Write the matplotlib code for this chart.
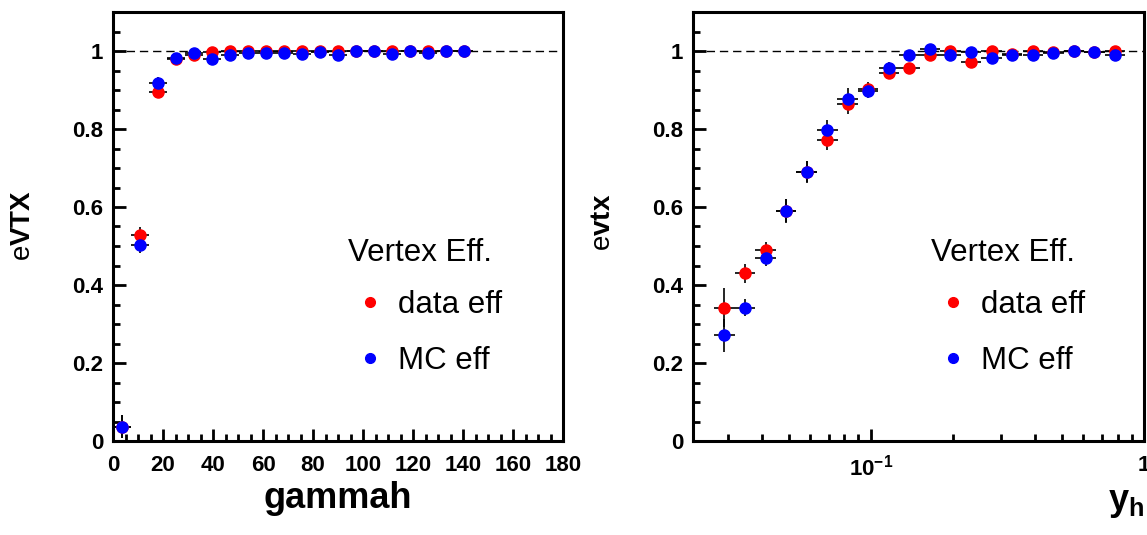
import numpy as np
import matplotlib
matplotlib.use("Agg")
import matplotlib.pyplot as plt
from matplotlib.lines import Line2D
from matplotlib.ticker import MultipleLocator, FixedLocator, FixedFormatter, LogLocator, NullFormatter

plt.rcParams['font.family'] = ['Liberation Sans', 'DejaVu Sans']
plt.rcParams['mathtext.fontset'] = 'custom'
plt.rcParams['mathtext.rm'] = 'Liberation Sans'
plt.rcParams['mathtext.bf'] = 'Liberation Sans:bold'

# --- left panel: efficiency vs gammah (20 bins, 0..144) ---
gam_x = [3.6, 10.8, 18.0, 25.2, 32.4, 39.6, 46.8, 54.0, 61.2, 68.4,
         75.6, 82.8, 90.0, 97.2, 104.4, 111.6, 118.8, 126.0, 133.2, 140.4]
gam_data = [0.037, 0.529, 0.896, 0.980, 0.990, 0.997, 1.0, 1.0, 1.0, 1.0,
            1.0, 0.999, 1.0, 0.999, 0.999, 1.0, 0.999, 1.0, 0.999, 0.999]
gam_mc = [0.037, 0.503, 0.918, 0.981, 0.994, 0.979, 0.989, 0.996, 0.996, 0.996,
          0.993, 0.998, 0.990, 1.0, 1.0, 0.992, 1.0, 0.996, 1.0, 1.0]
gam_data_err = [0.03, 0.02, 0.015, 0.008, 0.006, 0.005, 0.004, 0.004, 0.004, 0.004,
                0.004, 0.003, 0.003, 0.003, 0.003, 0.003, 0.003, 0.003, 0.003, 0.003]
gam_mc_err = [0.03, 0.02, 0.015, 0.008, 0.006, 0.005, 0.004, 0.004, 0.004, 0.004,
              0.004, 0.003, 0.003, 0.003, 0.003, 0.003, 0.003, 0.003, 0.003, 0.003]
gam_halfwidth = 3.6

# --- right panel: efficiency vs y_h (20 log bins) ---
yh_x = [0.02904, 0.03451, 0.04111, 0.04887, 0.05808, 0.06918, 0.08222, 0.09772,
        0.1164, 0.1384, 0.1644, 0.1954, 0.2328, 0.2767, 0.3289, 0.3917,
        0.4656, 0.5534, 0.6577, 0.7816]
yh_data = [0.342, 0.430, 0.489, 0.590, 0.691, 0.772, 0.864, 0.903, 0.943, 0.957,
           0.989, 1.0, 0.972, 1.0, 0.993, 1.0, 0.998, 1.0, 0.998, 1.0]
yh_mc = [0.271, 0.342, 0.470, 0.591, 0.690, 0.797, 0.877, 0.897, 0.957, 0.990,
         1.006, 0.991, 0.997, 0.981, 0.990, 0.989, 0.994, 1.0, 0.997, 0.990]
yh_data_err = [0.05, 0.025, 0.022, 0.03, 0.028, 0.025, 0.025, 0.018, 0.015, 0.01,
               0.008, 0.006, 0.01, 0.006, 0.006, 0.005, 0.005, 0.004, 0.004, 0.004]
yh_mc_err = [0.043, 0.022, 0.022, 0.03, 0.028, 0.027, 0.027, 0.018, 0.015, 0.01,
             0.008, 0.006, 0.006, 0.006, 0.006, 0.005, 0.005, 0.004, 0.004, 0.004]
yh_loghalf = 0.0376

RED = '#ff0000'
BLUE = '#0000ff'
MS = 8
TICKFONT = 16


def style_axes(ax):
    for s in ax.spines.values():
        s.set_linewidth(2.2)
    ax.tick_params(which='both', direction='in', top=False, right=False,
                   width=2.0, labelsize=TICKFONT, pad=7)
    ax.tick_params(axis='x', which='both', pad=10)
    ax.tick_params(which='major', length=9)
    ax.tick_params(which='minor', length=5)
    for lab in ax.get_xticklabels() + ax.get_yticklabels():
        lab.set_fontweight('bold')
    ax.set_ylim(0, 1.1)
    ax.yaxis.set_major_locator(MultipleLocator(0.2))
    ax.yaxis.set_minor_locator(MultipleLocator(0.05))
    ax.yaxis.set_major_formatter(plt.FuncFormatter(lambda v, p: '%g' % round(v, 2)))
    ax.axhline(1.0, color='k', lw=1.0, ls=(0, (6, 3.5)), zorder=1)


def add_legend(ax, anchor):
    handles = [Line2D([], [], marker='o', ls='none', color=RED, ms=7),
               Line2D([], [], marker='o', ls='none', color=BLUE, ms=7)]
    leg = ax.legend(handles, ['data eff', 'MC eff'], title='Vertex Eff.',
                    loc='upper left', bbox_to_anchor=anchor, frameon=False,
                    fontsize=22.5, title_fontsize=22.5, borderpad=0,
                    handlelength=1.4, handletextpad=0.2, labelspacing=0.85,
                    alignment='left')
    leg._legend_box.sep = 16
    return leg


fig = plt.figure(figsize=(11.47, 5.35), dpi=100)
ax1 = fig.add_axes([113 / 1147, 1 - 441 / 535, 450 / 1147, 429 / 535])
ax2 = fig.add_axes([693 / 1147, 1 - 441 / 535, 451 / 1147, 429 / 535])

ekw = dict(fmt='o', ms=MS, ecolor='k', elinewidth=1.2, capsize=0, zorder=3)

ax1.errorbar(gam_x, gam_data, yerr=gam_data_err, xerr=gam_halfwidth, color=RED, **ekw)
ax1.errorbar(gam_x, gam_mc, yerr=gam_mc_err, xerr=gam_halfwidth, color=BLUE, **ekw)
ax1.set_xlim(0, 180)
ax1.xaxis.set_major_locator(MultipleLocator(20))
ax1.xaxis.set_minor_locator(MultipleLocator(5))
style_axes(ax1)
ax1.set_xlabel('gammah', fontsize=26, fontweight='bold', labelpad=4)
add_legend(ax1, ((332 - 113) / 450, (441 - 222) / 429))

yx = np.array(yh_x)
xlo = yx - yx / 10 ** yh_loghalf
xhi = yx * 10 ** yh_loghalf - yx
ax2.errorbar(yx, yh_data, yerr=yh_data_err, xerr=[xlo, xhi], color=RED, **ekw)
ax2.errorbar(yx, yh_mc, yerr=yh_mc_err, xerr=[xlo, xhi], color=BLUE, **ekw)
ax2.set_xscale('log')
ax2.set_xlim(0.0223, 1.0)
ax2.xaxis.set_major_locator(FixedLocator([0.1, 1.0]))
ax2.xaxis.set_major_formatter(FixedFormatter([r'$\mathbf{10^{-1}}$', r'$\mathbf{1}$']))
ax2.xaxis.set_minor_locator(LogLocator(base=10, subs=np.arange(2, 10)))
ax2.xaxis.set_minor_formatter(NullFormatter())
style_axes(ax2)
ax2.set_xlabel(r'$\mathbf{y}_\mathbf{h}$', fontsize=26, loc='right', labelpad=3)
add_legend(ax2, ((915 - 693) / 451, (441 - 222) / 429))

fig.text(23 / 1147, 1 - 225 / 535, r'$\mathrm{e}\mathbf{VTX}$', rotation=90,
         ha='center', va='center', fontsize=20)
fig.text(603 / 1147, 1 - 222 / 535, r'$\mathrm{e}\mathbf{vtx}$', rotation=90,
         ha='center', va='center', fontsize=20)

fig.savefig('out.png', dpi=100)
